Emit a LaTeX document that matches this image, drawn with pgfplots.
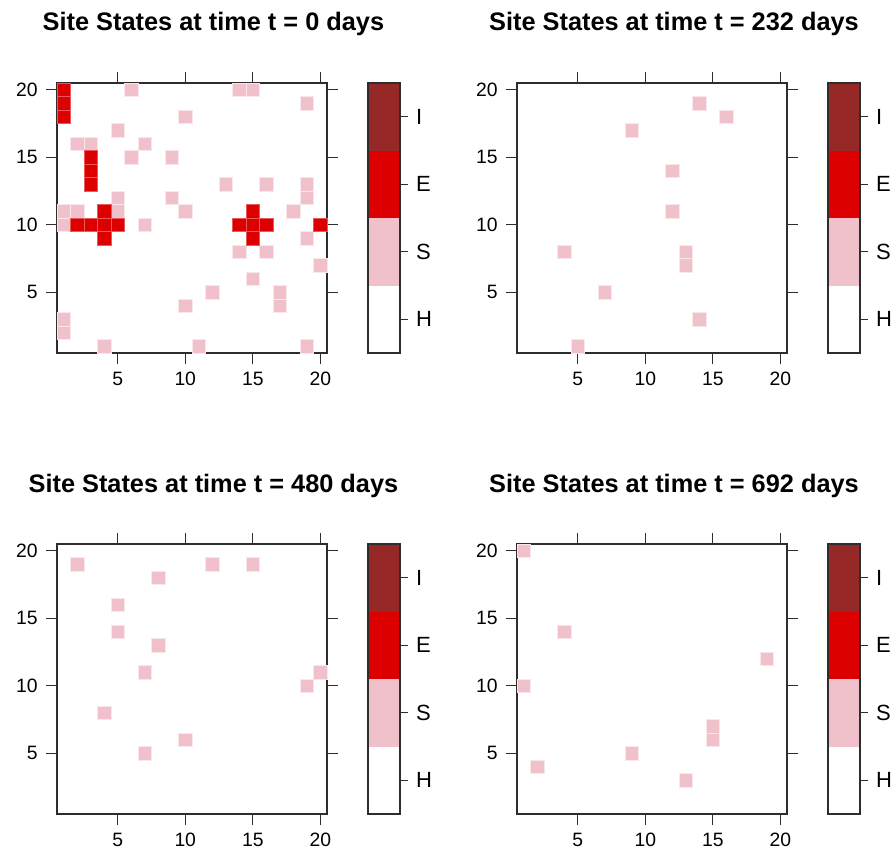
\documentclass[border=0pt]{standalone}
\usepackage{fontspec}
\setmainfont{Liberation Sans}
\usepackage{pgfplots}
\pgfplotsset{compat=1.18}
\definecolor{cS}{RGB}{240,192,203}
\definecolor{cE}{RGB}{221,0,0}
\definecolor{cI}{RGB}{150,40,40}
\definecolor{axc}{RGB}{45,45,45}
\pgfplotsset{
  site/.style={scale only axis, width=202.5pt, height=202.5pt,
    xmin=0.5, xmax=20.5, ymin=0.5, ymax=20.5,
    xtick={5,10,15,20}, ytick={5,10,15,20},
    tick align=outside, major tick length=8pt, axis on top,
    axis line style={axc, line width=1pt},
    tick style={axc, line width=1pt},
    /pgf/number format/assume math mode=true,
    tick label style={font=\fontsize{14.5}{14.5}\selectfont},
    xticklabel shift=3pt, yticklabel shift=3pt,
    anchor=south west},
  cellS/.style={only marks, mark=square*, mark size=5.06pt,
    mark options={fill=cS, draw=white!60!cS, line width=0.4pt}},
  cellE/.style={only marks, mark=square*, mark size=5.06pt,
    mark options={fill=cE, draw=white!35!cE, line width=0.3pt}},
  cbar/.style={scale only axis, width=24pt, height=202.5pt,
    xmin=0, xmax=1, ymin=0.5, ymax=4.5,
    xtick=\empty, ytick={1,2,3,4}, yticklabels={H,S,E,I},
    ytick pos=right, tick align=outside, major tick length=6pt,
    axis on top,
    axis line style={axc, line width=1pt},
    tick style={axc, line width=1pt},
    yticklabel style={font=\fontsize{16.5}{16.5}\selectfont},
    yticklabel shift=2.5pt,
    anchor=south west}
}
\tikzset{ttl/.style={anchor=base, font=\fontsize{19}{19}\selectfont\bfseries}}
\newcommand{\colorbar}{%
  \addplot[fill=white, draw=none] coordinates {(0,0.5) (1,0.5) (1,1.5) (0,1.5)} -- cycle;
  \addplot[fill=cS, draw=none] coordinates {(0,1.5) (1,1.5) (1,2.5) (0,2.5)} -- cycle;
  \addplot[fill=cE, draw=none] coordinates {(0,2.5) (1,2.5) (1,3.5) (0,3.5)} -- cycle;
  \addplot[fill=cI, draw=none] coordinates {(0,3.5) (1,3.5) (1,4.5) (0,4.5)} -- cycle;
}
\begin{document}
\begin{tikzpicture}
\useasboundingbox (0,0) rectangle (671.25pt,638.25pt);
% ---------- t = 0
\begin{axis}[site, at={(42.75pt,373.5pt)}]
\addplot[cellS] coordinates {
(6,20)(14,20)(15,20)(19,19)(10,18)(5,17)(2,16)(3,16)(7,16)(6,15)(9,15)
(13,13)(16,13)(19,13)(5,12)(9,12)(19,12)(1,11)(2,11)(5,11)(10,11)(18,11)
(1,10)(7,10)(19,9)(14,8)(16,8)(20,7)(15,6)(12,5)(17,5)(10,4)(17,4)
(1,3)(1,2)(4,1)(11,1)(19,1)};
\addplot[cellE] coordinates {
(1,20)(1,19)(1,18)(3,15)(3,14)(3,13)
(2,10)(3,10)(4,10)(5,10)(4,11)(4,9)
(14,10)(15,10)(16,10)(15,11)(15,9)(20,10)};
\end{axis}
\begin{axis}[cbar, at={(276pt,373.5pt)}]
\colorbar
\end{axis}
\node[ttl] at (160.1pt,615pt) {Site States at time t = 0 days};
% ---------- t = 232
\begin{axis}[site, at={(387.75pt,373.5pt)}]
\addplot[cellS] coordinates {
(14,19)(16,18)(9,17)(12,14)(12,11)(4,8)(13,8)(13,7)(7,5)(14,3)(5,1)};
\end{axis}
\begin{axis}[cbar, at={(621pt,373.5pt)}]
\colorbar
\end{axis}
\node[ttl] at (505.5pt,615pt) {Site States at time t = 232 days};
% ---------- t = 480
\begin{axis}[site, at={(42.75pt,27.75pt)}]
\addplot[cellS] coordinates {
(2,19)(12,19)(15,19)(8,18)(5,16)(5,14)(8,13)(7,11)(20,11)(19,10)(4,8)(10,6)(7,5)};
\end{axis}
\begin{axis}[cbar, at={(276pt,27.75pt)}]
\colorbar
\end{axis}
\node[ttl] at (160.1pt,269.25pt) {Site States at time t = 480 days};
% ---------- t = 692
\begin{axis}[site, at={(387.75pt,27.75pt)}]
\addplot[cellS] coordinates {
(1,20)(4,14)(19,12)(1,10)(15,7)(15,6)(2,4)(9,5)(13,3)};
\end{axis}
\begin{axis}[cbar, at={(621pt,27.75pt)}]
\colorbar
\end{axis}
\node[ttl] at (505.5pt,269.25pt) {Site States at time t = 692 days};
\end{tikzpicture}
\end{document}
